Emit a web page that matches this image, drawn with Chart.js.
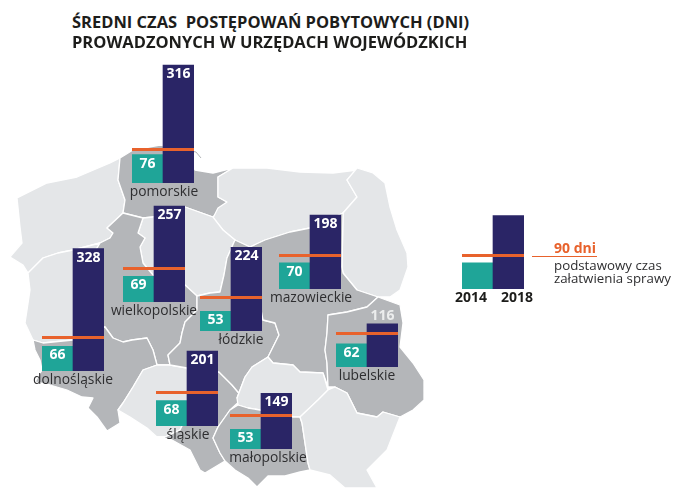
<!DOCTYPE html>
<html lang="pl">
<head>
<meta charset="utf-8">
<title>Średni czas postępowań pobytowych</title>
<script src="https://cdn.jsdelivr.net/npm/chart.js@4"></script>
<style>
  html, body { margin: 0; padding: 0; background: #fff; }
  #page { position: relative; width: 675px; height: 488px; overflow: hidden; font-family: "Open Sans", sans-serif; }
  #map { position: absolute; left: 0; top: 0; }
  #page canvas { position: absolute; }
  .title { position: absolute; left: 72px; font-size: 16.5px; font-weight: 700; color: #1d1d1b; white-space: pre; line-height: 20px; }
  .region { position: absolute; font-size: 13.8px; color: #2e2e30; white-space: nowrap; transform: translateX(-50%); line-height: 16px; }
  .year { position: absolute; font-size: 14px; font-weight: 700; color: #1d1d1b; transform: translateX(-50%); line-height: 16px; }
  .note { position: absolute; left: 554px; font-size: 13.3px; color: #2e2e30; white-space: nowrap; line-height: 16px; }
  .note.big { font-size: 14px; font-weight: 700; color: #e8622c; }
</style>
</head>
<body>
<div id="page">
  <svg id="map" width="675" height="488"></svg>
</div>
<script>
// ===== DATA =====
const regions = ['pomorskie', 'wielkopolskie', 'dolnośląskie', 'łódzkie', 'mazowieckie', 'lubelskie', 'śląskie', 'małopolskie'];
const values2014 = [76, 69, 66, 53, 70, 62, 68, 53];
const values2018 = [316, 257, 328, 224, 198, 116, 201, 149];
const years = ['2014', '2018'];
const limitDays = 90;
const legendValues = [70, 197];

// ===== LAYOUT (page pixels) =====
const barLeft = [132, 123, 42, 200, 279, 336, 156, 230];
const barBase = [183, 302, 371, 331, 289, 367, 426, 449];
const labelShift = [1, 0, 0, 10, 1, 0, 1, 7];
const CHART_W = 62, CHART_H = 131, Y_MAX = 351;

const NAVY = '#2a2566', TEAL = '#1fa598', ORANGE = '#e8622c';
const LIGHT = '#e4e6e8', MEDIUM = '#b4b6b9';

// Voivodeship outlines, background only
const mapShapes = [
  [LIGHT, '17,198 47,183 77,177 110,163 120,158 118,180 125,200 123,213 107,228 113,233 110,238 100,243 73,250 58,253 43,258 28,273 23,265 10,257 22,243 20,227'],
  [LIGHT, '28,273 43,258 58,253 73,250 100,243 90,260 95,290 90,330 73,340 43,343 33,340 25,323 27,310 30,290'],
  [MEDIUM, '120,158 133,150 160,145 187,150 195,170 213,173 233,168 218,177 218,197 227,202 217,213 213,217 185,207 153,217 143,218 123,213 125,200 118,180'],
  [LIGHT, '233,168 267,168 300,172 333,173 357,170 347,180 357,197 343,213 310,228 290,232 265,240 250,247 235,240 223,230 213,218 218,208 227,202 218,197 218,177'],
  [LIGHT, '357,168 373,173 385,183 390,207 397,230 407,253 408,267 400,290 390,297 378,297 357,290 343,273 342,267 343,213 357,197 347,180'],
  [LIGHT, '143,218 153,217 185,207 213,217 223,230 235,240 227,258 224,275 220,292 210,293 197,296 185,285 170,280 153,275 143,263 140,247 145,238 138,233'],
  [MEDIUM, '123,213 143,218 138,233 145,238 140,247 143,263 153,275 170,280 185,285 197,296 197,310 185,322 182,333 180,343 168,355 170,365 157,365 153,350 147,338 132,340 123,342 113,338 105,327 90,330 95,290 90,260 100,243 110,238 113,233 107,228'],
  [MEDIUM, '33,340 43,343 73,340 90,330 105,327 113,338 123,342 132,340 147,338 153,350 157,365 143,370 133,387 123,403 118,410 120,423 107,431 97,417 88,408 93,398 82,397 67,390 50,385 35,382 42,370 40,360 35,350'],
  [LIGHT, '118,410 123,403 133,387 143,370 157,365 170,365 187,368 195,400 180,430 165,437 157,437 147,428 130,417'],
  [MEDIUM, '187,368 219,372 232,385 243,398 230,410 218,427 213,438 220,453 225,461 205,473 200,470 190,450 172,440 157,437 165,437 180,430 195,400'],
  [MEDIUM, '224,275 227,258 235,240 250,247 255,280 263,320 275,323 279,335 273,347 268,357 252,367 245,377 237,398 243,398 232,385 219,372 187,368 170,365 168,355 180,343 182,333 185,322 197,310 197,296 210,293 220,292'],
  [MEDIUM, '265,240 290,232 310,228 343,213 342,267 343,273 357,290 378,297 367,307 347,312 328,315 327,333 325,350 327,363 328,387 323,373 300,372 293,365 273,363 268,357 273,347 279,335 275,323 263,320 255,280 250,247'],
  [MEDIUM, '378,297 400,305 403,323 400,347 413,363 424,380 424,400 413,410 400,417 383,412 377,417 357,413 347,393 335,387 328,387 327,363 325,350 327,333 328,315 347,312 367,307'],
  [LIGHT, '237,398 245,377 252,367 268,357 273,363 293,365 300,372 323,373 328,390 318,400 300,417 293,417 260,410 248,408 238,405'],
  [MEDIUM, '230,410 238,405 248,408 260,410 293,417 300,417 302,423 308,463 310,470 300,472 285,476 268,476 257,487 248,478 235,470 225,461 220,453 213,438 218,427'],
  [LIGHT, '300,417 318,400 328,390 335,387 347,393 357,413 377,417 383,412 400,417 387,450 367,470 377,488 345,488 330,475 310,470 308,463 302,423']
];

function drawMap() {
  const svg = document.getElementById('map');
  let html = '';
  mapShapes.forEach(([fill, pts]) => {
    html += `<polygon points="${pts}" fill="${fill}" stroke="#fff" stroke-width="1.3" stroke-linejoin="round"/>`;
  });
  // Hel peninsula
  html += `<polyline points="187,150 196,152 201,158" fill="none" stroke="${MEDIUM}" stroke-width="1"/>`;
  // legend leader
  html += `<line x1="532" y1="256.5" x2="597" y2="256.5" stroke="${ORANGE}" stroke-width="1"/>`;
  svg.innerHTML = html;
}

// limit line plus the value labels, both placed from the chart's scales
const overlayPlugin = {
  id: 'overlay',
  afterDatasetsDraw(chart, args, opts) {
    const { ctx, chartArea, scales } = chart;
    const yLimit = scales.y.getPixelForValue(limitDays);
    ctx.save();
    ctx.strokeStyle = ORANGE;
    ctx.lineWidth = 3;
    ctx.beginPath();
    ctx.moveTo(chartArea.left, yLimit);
    ctx.lineTo(chartArea.right, yLimit);
    ctx.stroke();

    if (opts.showValues) {
      ctx.font = '700 14px "Open Sans", sans-serif';
      ctx.textAlign = 'center';
      ctx.textBaseline = 'middle';
      chart.getDatasetMeta(0).data.forEach((bar, i) => {
        const value = chart.data.datasets[0].data[i];
        const above = opts.labelAbove && i === 1;
        ctx.fillStyle = above ? '#eceded' : '#fff';
        ctx.fillText(value, bar.x, above ? bar.y - 8 : bar.y + 9);
      });
    }
    ctx.restore();
  }
};

function makeChart(left, base, values, extra) {
  const canvas = document.createElement('canvas');
  canvas.width = CHART_W;
  canvas.height = CHART_H;
  canvas.style.left = left + 'px';
  canvas.style.top = (base - CHART_H) + 'px';
  document.getElementById('page').appendChild(canvas);
  return new Chart(canvas, {
    type: 'bar',
    data: {
      labels: years,
      datasets: [{
        data: values,
        backgroundColor: [TEAL, NAVY],
        barPercentage: 1,
        categoryPercentage: 1,
        borderWidth: 0
      }]
    },
    options: {
      responsive: false,
      animation: false,
      layout: { padding: 0 },
      plugins: { legend: { display: false }, tooltip: { enabled: false }, overlay: extra },
      scales: {
        x: { display: false },
        y: { display: false, min: 0, max: Y_MAX }
      }
    },
    plugins: [overlayPlugin]
  });
}

function addText(cls, text, left, top) {
  const el = document.createElement('div');
  el.className = cls;
  el.textContent = text;
  if (left !== null) el.style.left = left + 'px';
  el.style.top = top + 'px';
  document.getElementById('page').appendChild(el);
}

drawMap();

regions.forEach((name, i) => {
  makeChart(barLeft[i], barBase[i], [values2014[i], values2018[i]], { showValues: true, labelAbove: name === 'lubelskie' });
  addText('region', name, barLeft[i] + CHART_W / 2 + labelShift[i], barBase[i] + 0);
});

// legend
makeChart(462, 289, legendValues, { showValues: false });
addText('year', years[0], 471, 289);
addText('year', years[1], 517, 289);
addText('note big', limitDays + ' dni', null, 240);
addText('note', 'podstawowy czas', null, 257);
addText('note', 'załatwienia sprawy', null, 270);

addText('title', 'ŚREDNI CZAS  POSTĘPOWAŃ POBYTOWYCH (DNI)', null, 12);
addText('title', 'PROWADZONYCH W URZĘDACH WOJEWÓDZKICH', null, 32);
</script>
</body>
</html>
